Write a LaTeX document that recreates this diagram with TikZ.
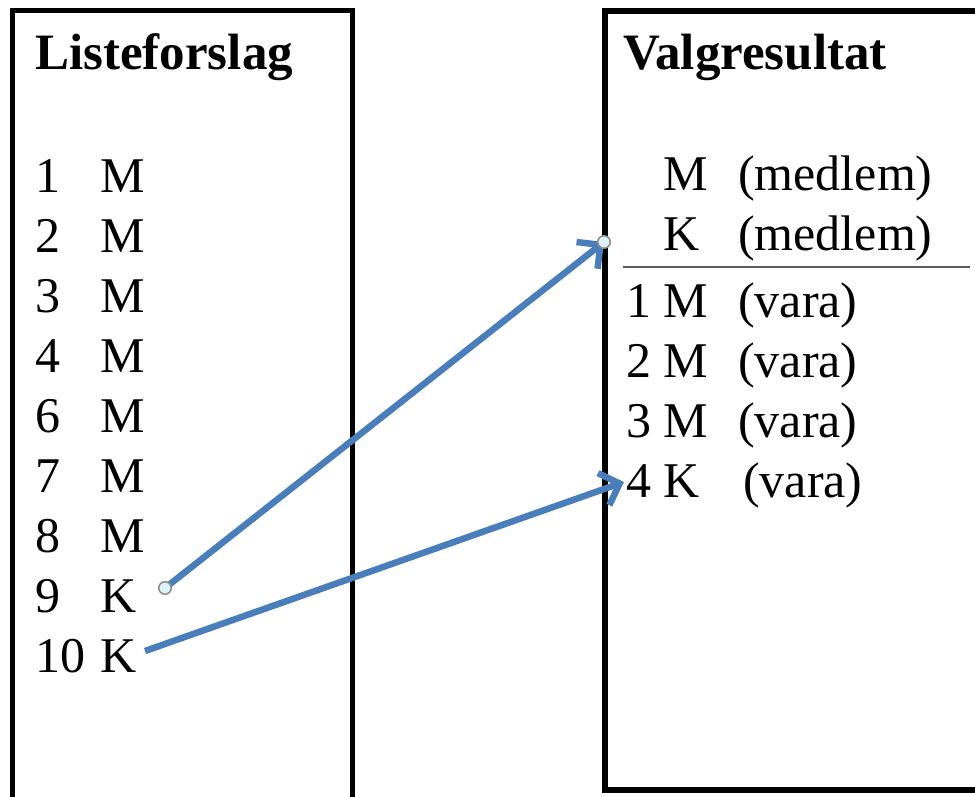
\documentclass[tikz,border=0pt]{standalone}
\usepackage{fontspec}
\setmainfont{Liberation Serif}
\usepackage{tikz}
\usetikzlibrary{arrows.meta,positioning}
\usepackage{xcolor}
\definecolor{pptblue}{RGB}{74,126,187}
\definecolor{handlefill}{RGB}{221,242,246}
\definecolor{handledraw}{RGB}{140,140,140}
\definecolor{rulegray}{RGB}{90,90,90}
\tikzstyle{arrow} = [line width=6.5pt,-{Straight Barb[length=17pt,width=34pt]},color=pptblue]
\tikzstyle{framebox} = [line width=5.5pt, draw=black]
\tikzstyle{sepline} = [line width=2pt, draw=rulegray]
\tikzstyle{titletext} = [anchor=base west, inner sep=0pt, font=\fontsize{51}{60}\selectfont\bfseries]
\tikzstyle{rowtext} = [anchor=base west, inner sep=0pt, font=\fontsize{50}{60}\selectfont]
\tikzstyle{handle} = [circle, draw=handledraw, fill=handlefill, line width=1.5pt, minimum size=12.5pt, inner sep=0pt]
\newcommand{\listrow}[2]{\makebox[65pt][l]{#1}#2}
\newcommand{\resrow}[3]{\makebox[37pt][l]{#1}\makebox[75pt][l]{#2}#3}

\begin{document}
\begin{tikzpicture}[x=1pt, y=-1pt]
\clip (0,0) rectangle (975,796);

% Frames
\draw[framebox] (12.5,830) -- (12.5,10.5) -- (352.5,10.5) -- (352.5,830);
\draw[framebox] (1000,790) -- (605,790) -- (605,11) -- (1000,11);

% Listeforslag
\node[titletext] (listtitle) at (35,69) {Listeforslag};
\node[rowtext] (l1) at (35,192) {\listrow{1}{M}};
\node[rowtext] (l2) at (35,252) {\listrow{2}{M}};
\node[rowtext] (l3) at (35,312) {\listrow{3}{M}};
\node[rowtext] (l4) at (35,372) {\listrow{4}{M}};
\node[rowtext] (l6) at (35,432) {\listrow{6}{M}};
\node[rowtext] (l7) at (35,492) {\listrow{7}{M}};
\node[rowtext] (l8) at (35,552) {\listrow{8}{M}};
\node[rowtext] (l9) at (35,612) {\listrow{9}{K}};
\node[rowtext] (l10) at (35,672) {\listrow{10}{K}};

% Valgresultat
\node[titletext] (restitle) at (623,69) {Valgresultat};
\node[rowtext] (rm) at (626,190) {\resrow{}{M}{(medlem)}};
\node[rowtext] (rk) at (626,250) {\resrow{}{K}{(medlem)}};
\draw[sepline] (623,267) -- (970,267);
\node[rowtext] (r1) at (626,317) {\resrow{1}{M}{(vara)}};
\node[rowtext] (r2) at (626,377) {\resrow{2}{M}{(vara)}};
\node[rowtext] (r3) at (626,437) {\resrow{3}{M}{(vara)}};
\node[rowtext] (r4) at (626,497) {\resrow{4}{K}{\hspace{5pt}(vara)}};

% Connectors
\coordinate (s9) at (165,588);
\coordinate (t9) at (604,242);
\coordinate (s10) at (145,651);
\coordinate (t4) at (624,482);
\draw[arrow] (s9) -- (t9);
\draw[arrow] (s10) -- (t4);
\node[handle] (h9) at (s9) {};
\node[handle] (hk) at (t9) {};
\end{tikzpicture}
\end{document}
